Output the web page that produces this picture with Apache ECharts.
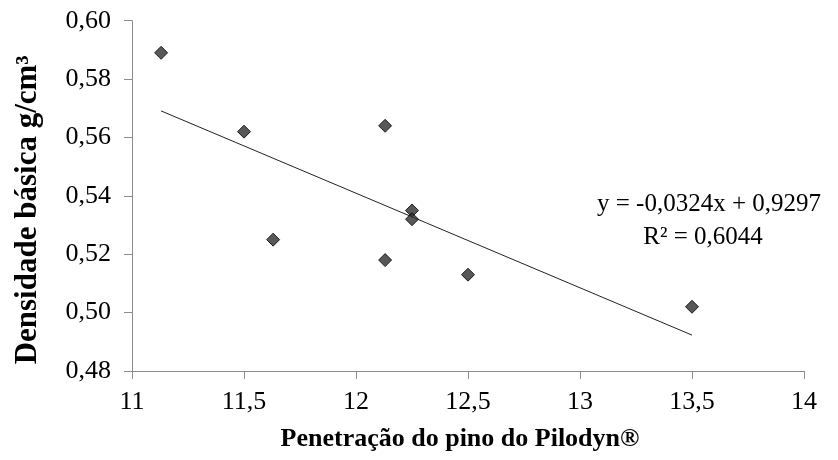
<!DOCTYPE html>
<html>
<head>
<meta charset="utf-8">
<script src="https://cdn.jsdelivr.net/npm/echarts@6/dist/echarts.min.js"></script>
<style>
  html, body { margin: 0; padding: 0; background: #fff; }
  #chart { width: 838px; height: 460px; }
</style>
</head>
<body>
<div id="chart"></div>
<script>
// Pilodyn pin penetration (mm) versus basic wood density (g/cm³)
const penetration = [11.13, 11.5, 11.63, 12.13, 12.13, 12.25, 12.25, 12.5, 13.5];
const density     = [0.589, 0.562, 0.525, 0.564, 0.518, 0.535, 0.532, 0.513, 0.502];

// Linear regression fitted to the points above
const slope = [-0.0324];
const intercept = [0.9297];
const rSquared = [0.6044];

const xTicks = [11, 11.5, 12, 12.5, 13, 13.5, 14];
const yTicks = [0.48, 0.50, 0.52, 0.54, 0.56, 0.58, 0.60];

const fmt = (v, d) => v.toFixed(d).replace('.', ',');

const points = penetration.map((x, i) => [x, density[i]]);
const xMin = Math.min(...penetration), xMax = Math.max(...penetration);
const trend = [xMin, xMax].map(x => [x, slope[0] * x + intercept[0]]);

const serif = '"Liberation Serif", "Times New Roman", serif';
const axisGray = '#8c8c8c';

const chart = echarts.init(document.getElementById('chart'), null, { renderer: 'canvas' });
chart.setOption({
  animation: false,
  backgroundColor: '#fff',
  grid: { left: 132, right: 34, top: 20.7, bottom: 89, containLabel: false },
  xAxis: {
    type: 'value',
    min: xTicks[0], max: xTicks[xTicks.length - 1], interval: 0.5,
    name: 'Penetração do pino do Pilodyn®',
    nameLocation: 'middle', nameGap: 55,
    nameTextStyle: {
      fontFamily: serif, fontSize: 26, fontWeight: 'bold', color: '#000',
      padding: [0, 16, 0, 0]
    },
    axisLine: { show: true, lineStyle: { color: axisGray, width: 1 } },
    axisTick: { show: true, length: 8, inside: false, lineStyle: { color: axisGray } },
    axisLabel: {
      fontFamily: serif, fontSize: 26, color: '#000', margin: 18,
      formatter: v => Number.isInteger(v) ? String(v) : fmt(v, 1)
    },
    splitLine: { show: false }
  },
  yAxis: {
    type: 'value',
    min: yTicks[0], max: yTicks[yTicks.length - 1], interval: 0.02,
    name: 'Densidade básica g/cm³',
    nameLocation: 'middle', nameGap: 89, nameRotate: 90,
    nameTextStyle: {
      fontFamily: serif, fontSize: 31, fontWeight: 'bold', color: '#000',
      padding: [0, 28, 0, 0]
    },
    axisLine: { show: true, lineStyle: { color: axisGray, width: 1 } },
    axisTick: { show: true, length: 8, inside: false, lineStyle: { color: axisGray } },
    axisLabel: {
      fontFamily: serif, fontSize: 26, color: '#000', margin: 21,
      formatter: v => fmt(v, 2)
    },
    splitLine: { show: false }
  },
  series: [
    {
      type: 'line',
      data: trend,
      showSymbol: false,
      symbol: 'none',
      lineStyle: { color: '#222', width: 1 },
      silent: true,
      z: 1
    },
    {
      type: 'scatter',
      data: points,
      symbol: 'diamond',
      symbolSize: 13,
      itemStyle: { color: '#2e2e2e', borderColor: '#000', borderWidth: 1 },
      z: 3
    }
  ],
  graphic: [
    {
      type: 'text',
      x: 709, y: 204,
      style: {
        text: 'y = -' + fmt(-slope[0], 4) + 'x + ' + fmt(intercept[0], 4),
        font: '25px ' + serif, fill: '#000',
        align: 'center', verticalAlign: 'middle'
      }
    },
    {
      type: 'text',
      x: 703, y: 237,
      style: {
        text: 'R² = ' + fmt(rSquared[0], 4),
        font: '25px ' + serif, fill: '#000',
        align: 'center', verticalAlign: 'middle'
      }
    }
  ]
});
</script>
</body>
</html>
